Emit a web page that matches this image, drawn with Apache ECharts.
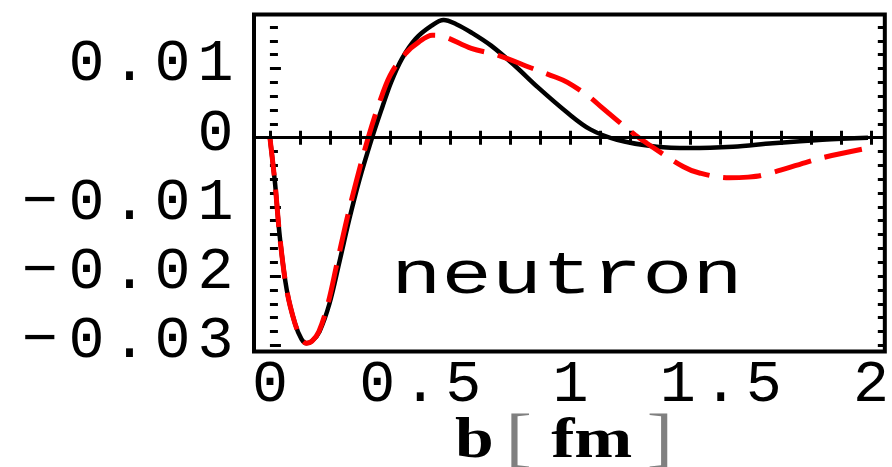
<!DOCTYPE html>
<html>
<head>
<meta charset="utf-8">
<script src="https://cdn.jsdelivr.net/npm/echarts@6/dist/echarts.min.js"></script>
<style>
  html, body { margin: 0; padding: 0; background: #fff; }
  #chart { width: 892px; height: 467px; }
</style>
</head>
<body>
<div id="chart"></div>
<script>
// b values [fm]
const bBlack = [0, 0.017, 0.033, 0.056, 0.083, 0.105, 0.122, 0.14, 0.165, 0.198, 0.231, 0.264, 0.297, 0.34,
    0.373, 0.403, 0.439, 0.485, 0.538, 0.578, 0.62, 0.67, 0.736, 0.815, 0.891, 0.99, 1.066, 1.155,
    1.287, 1.396, 1.541, 1.673, 1.838, 1.99];
const valBlack = [0, -0.0066, -0.0144, -0.022, -0.0268, -0.0291, -0.0297, -0.0294, -0.028, -0.024, -0.018, -0.0118, -0.0062, 0,
    0.0043, 0.008, 0.0114, 0.0143, 0.0162, 0.017, 0.0164, 0.0152, 0.0133, 0.0104, 0.0073, 0.0036, 0.0012, -0.0003,
    -0.0013, -0.0015, -0.0013, -0.0008, -0.0003, 0];

const bRed = [0, 0.017, 0.033, 0.056, 0.083, 0.105, 0.122, 0.14, 0.163, 0.193, 0.224, 0.256, 0.288, 0.327,
    0.36, 0.4, 0.452, 0.495, 0.54, 0.58, 0.67, 0.76, 0.868, 0.947, 0.99, 1.063, 1.106, 1.215,
    1.254, 1.376, 1.429, 1.528, 1.591, 1.64, 1.782, 1.838, 1.99];
const valRed = [0, -0.0066, -0.0144, -0.022, -0.0268, -0.0291, -0.0297, -0.0294, -0.028, -0.024, -0.018, -0.0118, -0.0062, 0,
    0.0045, 0.009, 0.0122, 0.0138, 0.0148, 0.0146, 0.0129, 0.0119, 0.0101, 0.0088, 0.008, 0.0059, 0.0043, 0.0004,
    -0.0008, -0.0042, -0.0051, -0.0058, -0.0057, -0.0054, -0.0036, -0.0029, -0.0015];

// ticks and labels
const xTickValues = [0, 0.1, 0.2, 0.3, 0.4, 0.5, 0.6, 0.7, 0.8, 0.9, 1, 1.1, 1.2, 1.3, 1.4, 1.5, 1.6, 1.7, 1.8, 1.9, 2];
const xLabelValues = [0, 0.5, 1, 1.5, 2];
const xLabels = ['0', '0.5', '1', '1.5', '2'];
const yMajorValues = [-0.03, -0.02, -0.01, 0, 0.01];
const yLabels = ['\u22120.03', '\u22120.02', '\u22120.01', '0', '0.01'];
const yMinorValues = [-0.03, -0.028, -0.026, -0.024, -0.022, -0.02, -0.018, -0.016, -0.014, -0.012, -0.01,
    -0.008, -0.006, -0.004, -0.002, 0, 0.002, 0.004, 0.006, 0.008, 0.01, 0.012, 0.014, 0.016];

const xMin = -0.053, xMax = 2.046;
const yMin = -0.0309, yMax = 0.0178;

const monoFont = '"Liberation Mono", "DejaVu Sans Mono", monospace';
const serifFont = '"Liberation Serif", serif';

// each character in its own fixed-width cell (wide spacing like the original)
const spaced = (s) => s.split('').map(ch => ch === '\u2212' ? '{m|\u2212}' : '{c|' + ch + '}').join('');
const cellRich = {
    c: { width: 43, align: 'center', fontFamily: monoFont, fontSize: 60, color: '#000' },
    m: { width: 50, align: 'center', fontFamily: monoFont, fontSize: 60, color: '#000' }
};

const pickLabel = (values, labels) => (v) => {
    const i = values.findIndex(t => Math.abs(t - v) < 1e-9);
    return i < 0 ? '' : spaced(labels[i]);
};

const toPairs = (xs, ys) => xs.map((x, i) => [x, ys[i]]);

const chart = echarts.init(document.getElementById('chart'), null, { renderer: 'canvas' });

const hiddenLine = { show: false };
const tickStyle = { color: '#000', width: 3 };

const option = {
    animation: false,
    backgroundColor: '#fff',
    grid: {
        show: true,
        left: 254,
        right: 3,
        top: 14.5,
        bottom: 115.5,
        borderColor: '#000',
        borderWidth: 4,
        backgroundColor: 'transparent'
    },
    xAxis: [
        {
            type: 'value', position: 'bottom', min: xMin, max: xMax,
            axisLine: hiddenLine, splitLine: { show: false },
            axisTick: { inside: true, length: 7, customValues: xTickValues, lineStyle: tickStyle },
            axisLabel: {
                customValues: xLabelValues, margin: 4,
                formatter: pickLabel(xLabelValues, xLabels), rich: cellRich
            }
        },
        {
            type: 'value', position: 'top', min: xMin, max: xMax,
            axisLine: hiddenLine, splitLine: { show: false },
            axisTick: { inside: true, length: 7, customValues: xTickValues, lineStyle: tickStyle },
            axisLabel: { show: false }
        }
    ],
    yAxis: [
        {
            type: 'value', position: 'left', min: yMin, max: yMax,
            axisLine: hiddenLine, splitLine: { show: false },
            axisTick: { inside: true, length: 11, customValues: yMajorValues, lineStyle: tickStyle },
            axisLabel: {
                customValues: yMajorValues, margin: 17,
                formatter: pickLabel(yMajorValues, yLabels), rich: cellRich,
                padding: [0, 0, 8, 0]
            }
        },
        {
            type: 'value', position: 'left', min: yMin, max: yMax,
            axisLine: hiddenLine, splitLine: { show: false },
            axisTick: { inside: true, length: 8, customValues: yMinorValues, lineStyle: tickStyle },
            axisLabel: { show: false }
        },
        {
            type: 'value', position: 'right', min: yMin, max: yMax,
            axisLine: hiddenLine, splitLine: { show: false },
            axisTick: { inside: true, length: 7, customValues: yMinorValues, lineStyle: tickStyle },
            axisLabel: { show: false }
        }
    ],
    series: [
        {
            name: 'black',
            type: 'line',
            data: toPairs(bBlack, valBlack),
            showSymbol: false,
            smooth: 0.35,
            lineStyle: { color: '#000', width: 4.5 },
            markLine: {
                silent: true,
                symbol: 'none',
                label: { show: false },
                lineStyle: { color: '#000', width: 3, type: 'solid' },
                data: [{ yAxis: 0 }]
            },
            z: 2
        },
        {
            name: 'red',
            type: 'line',
            data: toPairs(bRed, valRed),
            showSymbol: false,
            smooth: 0.35,
            lineStyle: { color: '#ff0000', width: 5, type: [38, 14] },
            z: 3
        }
    ],
    graphic: [
        {
            type: 'text',
            x: 567, y: 277,
            scaleX: 1.35,
            z: 10,
            style: {
                text: 'neutron',
                font: '62px ' + monoFont,
                fill: '#000',
                align: 'center',
                verticalAlign: 'middle'
            }
        },
        {
            type: 'text',
            x: 564, y: 442,
            scaleX: 1.2,
            z: 10,
            style: {
                text: '{b|b}{br|[}{fm|fm}{br|]}',
                align: 'center',
                verticalAlign: 'middle',
                rich: {
                    b: { fontFamily: serifFont, fontWeight: 'bold', fontSize: 58, fill: '#000', padding: [0, 10, 0, 0] },
                    fm: { fontFamily: serifFont, fontWeight: 'bold', fontSize: 58, fill: '#000', padding: [0, 12, 0, 16] },
                    br: { fontFamily: serifFont, fontSize: 66, fill: '#808080' }
                }
            }
        }
    ]
};

chart.setOption(option);
</script>
</body>
</html>
